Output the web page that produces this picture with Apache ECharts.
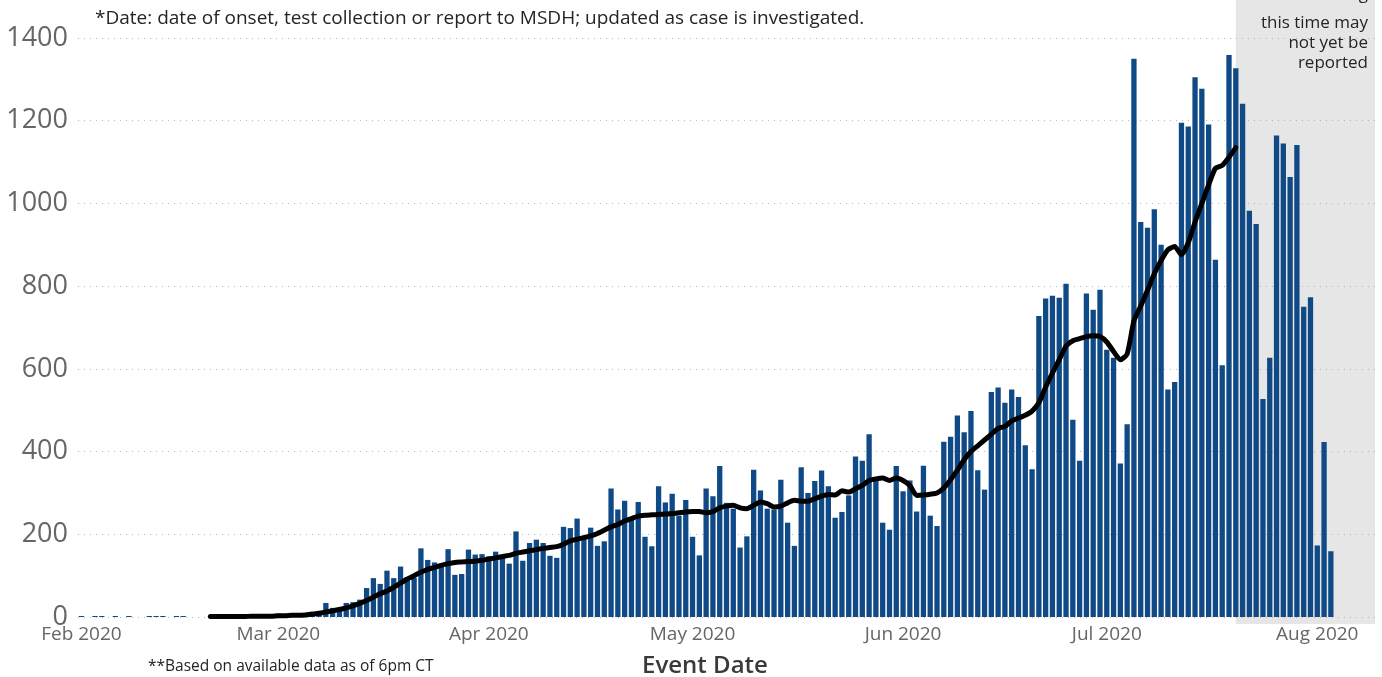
<!DOCTYPE html>
<html>
<head>
<meta charset="utf-8">
<script src="https://cdn.jsdelivr.net/npm/echarts@6/dist/echarts.min.js"></script>
<style>
html,body{margin:0;padding:0;background:#fff;}
#chart{width:1382px;height:677px;}
</style>
</head>
<body>
<div id="chart"></div>
<script>
// ---------- data ----------
const startDate = '2020-02-01';     // first category on the axis
const dayCount = 191;               // Feb 1 .. Aug 9
const lineStartDate = '2020-02-20'; // first point of the black trend line
const lagStartDate = '2020-07-20';  // start of the shaded "may not yet be reported" period
const monthNames = ['Jan','Feb','Mar','Apr','May','Jun','Jul','Aug','Sep','Oct','Nov','Dec'];
const yTicks = [0, 200, 400, 600, 800, 1000, 1200, 1400];

// daily cases, from Feb 1 2020
const dailyCases = [
  1,null,1,1,null,1,null,1,null,null,
  1,1,1,null,1,1,null,null,null,1,
  1,1,2,1,1,2,3,2,3,8,
  2,3,5,6,10,12,34,22,20,34,
  36,42,70,94,80,112,94,122,96,95,
  166,138,132,129,164,102,104,163,151,152,
  147,158,151,129,207,136,179,187,179,148,
  143,218,215,238,187,216,172,183,311,260,
  281,237,278,194,171,316,277,298,245,283,
  194,149,311,292,365,276,262,168,195,356,
  306,262,260,332,228,172,362,300,329,354,
  316,240,254,294,388,378,442,338,228,211,
  365,304,330,255,366,245,220,424,436,487,
  447,498,355,308,544,555,518,550,532,415,
  357,728,770,777,772,806,477,378,782,743,
  791,646,627,371,466,1350,955,941,986,900,
  550,568,1195,1186,1305,1277,1191,864,609,1359,
  1327,1241,982,950,527,627,1164,1145,1064,1141,
  750,773,173,423,159
];

// black trend line values, from Feb 20 2020 to Jul 20 2020
const trendLine = [
  1,1,1,1,1,1,2,2,2,2,
  3,3,4,4,5,7,9,12,15,18,
  22,27,33,40,48,56,63,72,82,92,
  100,108,115,120,125,129,132,133,134,135,
  137,140,143,146,149,154,157,160,163,166,
  168,170,176,184,188,192,196,202,210,218,
  224,232,238,244,246,247,248,249,250,252,
  254,255,255,252,255,264,268,270,264,262,
  270,278,274,266,268,276,282,280,280,286,
  292,296,295,305,302,310,318,330,334,336,
  330,336,330,318,294,295,297,300,312,332,
  355,380,400,414,428,442,456,461,474,481,
  488,498,518,556,590,622,655,668,673,678,
  680,678,665,642,622,636,716,752,790,830,
  862,888,896,876,905,955,1000,1045,1085,1092,
  1112,1135
];

const noteTop = '*Date: date of onset, test collection or report to MSDH; updated as case is investigated.';
const noteBottom = '**Based on available data as of 6pm CT';
const xAxisTitle = 'Event Date';
const lagNoteLines = ['Cases during', 'this time may', 'not yet be', 'reported'];

// ---------- build ----------
function isoDay(d) { return d.toISOString().slice(0, 10); }
const categories = [];
{
  const t0 = Date.parse(startDate + 'T00:00:00Z');
  for (let i = 0; i < dayCount; i++) categories.push(isoDay(new Date(t0 + i * 86400000)));
}
const lineStartIdx = categories.indexOf(lineStartDate);
const lineData = categories.map((c, i) => {
  const k = i - lineStartIdx;
  return (k >= 0 && k < trendLine.length) ? trendLine[k] : null;
});

const FONT = '"Open Sans", "Noto Sans", sans-serif';
const grid = { left: 78, right: 7, top: 38, bottom: 60 };

const chart = echarts.init(document.getElementById('chart'), null, { renderer: 'canvas' });
chart.setOption({
  animation: false,
  backgroundColor: '#ffffff',
  grid: grid,
  xAxis: {
    type: 'category',
    data: categories,
    boundaryGap: true,
    axisLine: { show: false },
    axisTick: { show: false },
    splitLine: { show: false },
    axisLabel: {
      interval: (i, v) => v.slice(8) === '01',
      formatter: v => monthNames[+v.slice(5, 7) - 1] + ' ' + v.slice(0, 4),
      color: '#666666',
      fontFamily: FONT,
      fontSize: 19,
      margin: 8,
      hideOverlap: false
    }
  },
  yAxis: {
    type: 'value',
    min: yTicks[0],
    max: yTicks[yTicks.length - 1],
    interval: yTicks[1] - yTicks[0],
    axisLine: { show: false },
    axisTick: { show: false },
    axisLabel: { color: '#666666', fontFamily: FONT, fontSize: 27, margin: 10, formatter: v => String(v) },
    splitLine: { show: true, lineStyle: { color: '#b4b4b4', width: 1, type: [1, 5] } }
  },
  series: [
    {
      type: 'bar',
      data: dailyCases,
      barCategoryGap: '22%',
      barMinHeight: 1,
      itemStyle: { color: '#0f4a86' },
      z: 2
    },
    {
      type: 'line',
      data: lineData,
      showSymbol: false,
      smooth: 0.2,
      connectNulls: false,
      lineStyle: { color: '#000000', width: 5, cap: 'round', join: 'round' },
      z: 3
    }
  ]
});

const W = chart.getWidth();
const lagLeft = chart.convertToPixel({ xAxisIndex: 0 }, lagStartDate);
const lagRight = W - grid.right;
const graphics = [
  {
    type: 'rect', z: -1, silent: true,
    shape: { x: lagLeft, y: 0, width: lagRight - lagLeft, height: 624 },
    style: { fill: '#e6e6e6' }
  },
  {
    type: 'text', z: 10, silent: true,
    style: { x: 95, y: 19, text: noteTop, font: '19px ' + FONT, fill: '#252423', align: 'left', verticalAlign: 'middle' }
  },
  {
    type: 'text', z: 10, silent: true,
    style: { x: 148, y: 667, text: noteBottom, font: '15.5px ' + FONT, fill: '#252423', align: 'left', verticalAlign: 'middle' }
  },
  {
    type: 'text', z: 10, silent: true,
    style: { x: 705, y: 666, text: xAxisTitle, font: '600 24px ' + FONT, fill: '#3a3a3a', align: 'center', verticalAlign: 'middle' }
  }
];
const lagLineY = [-6, 23, 43, 63];
lagNoteLines.forEach((t, i) => {
  graphics.push({
    type: 'text', z: 10, silent: true,
    style: { x: 1368, y: lagLineY[i], text: t, font: '17px ' + FONT, fill: '#252423', align: 'right', verticalAlign: 'middle' }
  });
});
chart.setOption({ graphic: { elements: graphics } });
</script>
</body>
</html>
